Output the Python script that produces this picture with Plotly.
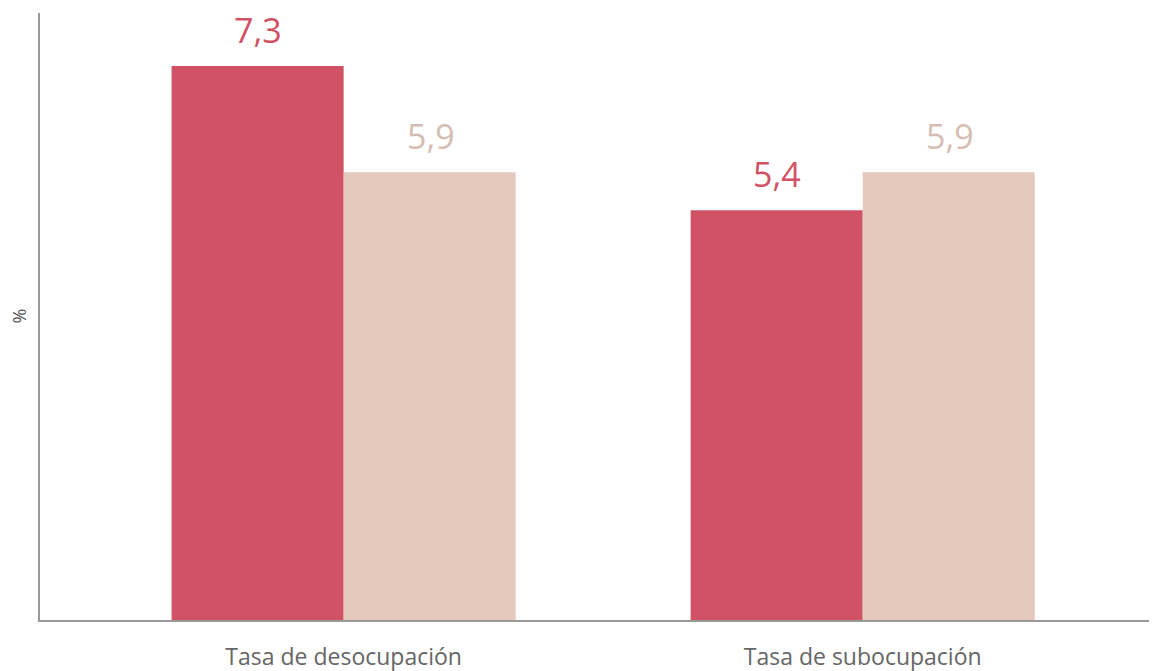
import plotly.graph_objects as go

categories = ["Tasa de desocupación", "Tasa de subocupación"]
serie_a = [7.3, 5.4]
serie_b = [5.9, 5.9]
etiquetas_a = ["7,3", "5,4"]
etiquetas_b = ["5,9", "5,9"]

ROJO = "#D15265"
BEIGE = "#E5C9BD"
BEIGE_TXT = "#D6BDB3"
FONT = "Open Sans"

fig = go.Figure()
fig.add_trace(go.Bar(x=categories, y=serie_a, marker=dict(color=ROJO, line=dict(width=0)), name="A"))
fig.add_trace(go.Bar(x=categories, y=serie_b, marker=dict(color=BEIGE, line=dict(width=0)), name="B"))

for i, c in enumerate(categories):
    fig.add_annotation(x=c, y=serie_a[i], text=etiquetas_a[i], showarrow=False, xshift=-86,
                       yanchor="bottom", yshift=11, font=dict(family=FONT, size=34, color=ROJO))
    fig.add_annotation(x=c, y=serie_b[i], text=etiquetas_b[i], showarrow=False, xshift=87,
                       yanchor="bottom", yshift=11, font=dict(family=FONT, size=34, color=BEIGE_TXT))

fig.add_annotation(xref="paper", yref="paper", x=0, y=0.5, xshift=-22, xanchor="center",
                   text="%", textangle=-90, showarrow=False,
                   font=dict(family=FONT, size=18, color="#555555"))

# the page body has an 8px default margin; margins below compensate for it
fig.update_layout(
    width=1157, height=671,
    margin=dict(l=32, r=8, t=5, b=59),
    paper_bgcolor="white", plot_bgcolor="white",
    barmode="group", bargap=0.337, bargroupgap=0,
    showlegend=False,
    font=dict(family=FONT, color="#666666"),
    xaxis=dict(range=[-0.585, 1.567], showline=True, linecolor="#999999", linewidth=2,
               showgrid=False, zeroline=False, ticks="outside", ticklen=15, automargin=False,
               tickcolor="rgba(0,0,0,0)", tickfont=dict(family=FONT, size=23, color="#666666")),
    yaxis=dict(range=[0, 8], showline=True, linecolor="#999999", linewidth=2, automargin=False,
               showgrid=False, zeroline=False, showticklabels=False, ticks=""),
)

fig.write_html("out.html")
